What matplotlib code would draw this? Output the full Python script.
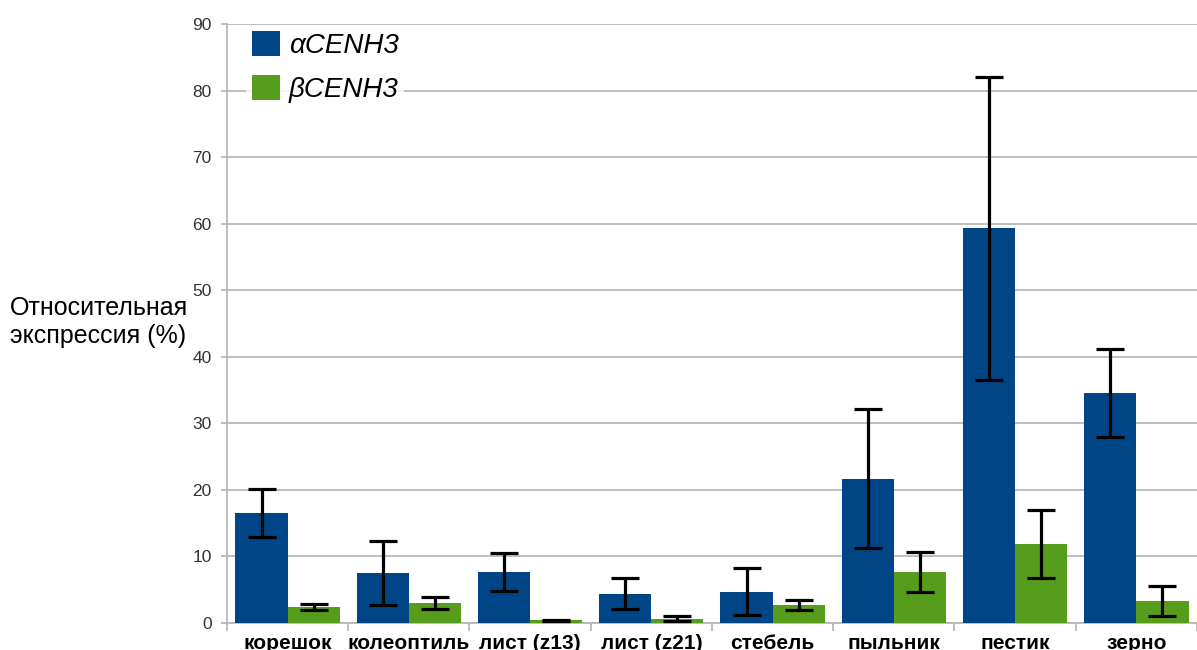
import numpy as np
import matplotlib.pyplot as plt
from matplotlib.ticker import FixedLocator, NullFormatter

plt.rcParams['font.family'] = ['Liberation Sans', 'DejaVu Sans']

# Tissues and relative expression (%) of the two CENH3 variants
tissues = ["корешок", "колеоптиль", "лист (z13)", "лист (z21)",
           "стебель", "пыльник", "пестик", "зерно"]
alpha_mean = [16.6, 7.5, 7.7, 4.4, 4.7, 21.7, 59.3, 34.6]
alpha_err = [3.6, 4.8, 2.85, 2.3, 3.5, 10.5, 22.8, 6.6]
beta_mean = [2.4, 3.0, 0.4, 0.65, 2.7, 7.6, 11.9, 3.3]
beta_err = [0.5, 0.85, 0.05, 0.35, 0.7, 3.0, 5.1, 2.2]

blue = "#004586"
green = "#579d1c"
grid_col = "#b3b3b3"


def expression_plot():
    fig = plt.figure(figsize=(11.97, 6.5), dpi=100)
    ax = fig.add_axes([0.1896, 0.0415, 0.8104, 0.9215])

    x = np.arange(len(tissues))
    w = 0.43
    err_kw = dict(ecolor="black", elinewidth=2.3, capsize=10, capthick=2.3)
    ax.bar(x - w / 2, alpha_mean, w, color=blue, yerr=alpha_err,
           error_kw=err_kw, label="αCENH3", zorder=3)
    ax.bar(x + w / 2, beta_mean, w, color=green, yerr=beta_err,
           error_kw=err_kw, label="βCENH3", zorder=3)

    ax.set_xlim(-0.5, len(tissues) - 0.5)
    ax.set_ylim(0, 90)
    ax.set_yticks(np.arange(0, 91, 10))
    ax.yaxis.grid(True, color=grid_col, linewidth=1.2, zorder=0)
    ax.set_axisbelow(True)

    # category labels centred, ticks on group boundaries
    ax.set_xticks(x)
    ax.set_xticklabels(tissues, fontsize=15, fontweight="bold")
    ax.tick_params(axis="x", length=0, pad=8)
    ax.xaxis.set_minor_locator(FixedLocator(np.arange(len(tissues) + 1) - 0.5))
    ax.xaxis.set_minor_formatter(NullFormatter())
    ax.tick_params(axis="x", which="minor", length=6, color=grid_col, width=1.2)
    ax.tick_params(axis="y", length=4, color=grid_col, width=1.2,
                   labelsize=12.5, labelcolor="#333333", pad=7)

    for s in ("top", "right"):
        ax.spines[s].set_visible(False)
    for s in ("left", "bottom"):
        ax.spines[s].set_color(grid_col)
        ax.spines[s].set_linewidth(1.2)

    fig.text(0.008, 0.505, "Относительная\nэкспрессия (%)", fontsize=18,
             ha="left", va="center", linespacing=1.22)

    leg = ax.legend(loc="upper left", bbox_to_anchor=(0.02, 0.997),
                    borderaxespad=0, frameon=True, fancybox=False,
                    edgecolor="white", prop=dict(size=20, style="italic"),
                    handlelength=1.0, handleheight=1.0, handletextpad=0.32,
                    labelspacing=0.56, borderpad=0.2)
    leg.get_frame().set_linewidth(0)

    fig.savefig("out.png", dpi=100)


if __name__ == "__main__":
    expression_plot()
